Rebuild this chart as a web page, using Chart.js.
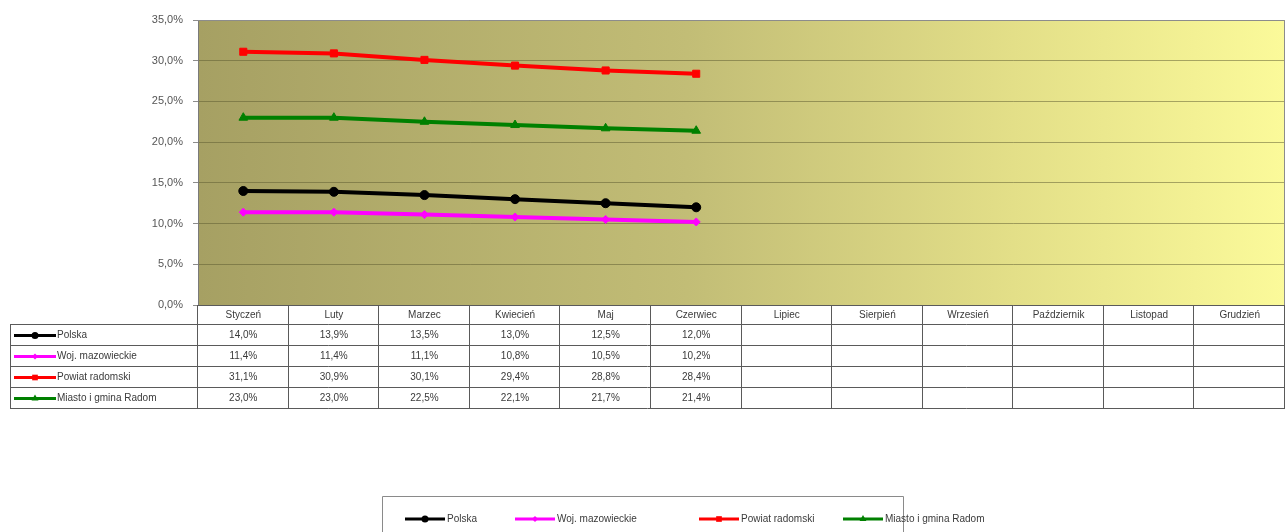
<!DOCTYPE html>
<html>
<head>
<meta charset="utf-8">
<script src="https://cdn.jsdelivr.net/npm/chart.js@4/dist/chart.umd.min.js"></script>
<style>
  html, body { margin: 0; padding: 0; background: #fff; }
  #wrap { width: 1287px; height: 532px; }
</style>
</head>
<body>
<div id="wrap"><canvas id="c" width="1287" height="532"></canvas></div>
<script>
// ── Data ─────────────────────────────────────────────────────────────────────
const MONTHS = ['Styczeń', 'Luty', 'Marzec', 'Kwiecień', 'Maj', 'Czerwiec',
  'Lipiec', 'Sierpień', 'Wrzesień', 'Październik', 'Listopad', 'Grudzień'];

const POLSKA     = [14.0, 13.9, 13.5, 13.0, 12.5, 12.0];
const WOJ_MAZ    = [11.4, 11.4, 11.1, 10.8, 10.5, 10.2];
const POWIAT_RAD = [31.1, 30.9, 30.1, 29.4, 28.8, 28.4];
const MIASTO_RAD = [23.0, 23.0, 22.5, 22.1, 21.7, 21.4];

const SERIES_NAMES = ['Polska', 'Woj. mazowieckie', 'Powiat radomski', 'Miasto i gmina Radom'];
const Y_TICKS = [0, 5, 10, 15, 20, 25, 30, 35];

const FONT = 'Arial, "Liberation Sans", sans-serif';
const TEXT = '#3a3a3a';

const fmtPct = (v) => v.toFixed(1).replace('.', ',') + '%';

// ── Plugins ──────────────────────────────────────────────────────────────────
const plotBg = {
  id: 'plotBg',
  beforeDraw(chart) {
    const { ctx, chartArea: a } = chart;
    const g = ctx.createLinearGradient(a.left, 0, a.right, 0);
    g.addColorStop(0,    '#a6a063');
    g.addColorStop(0.45, '#c2bd76');
    g.addColorStop(0.75, '#e3df88');
    g.addColorStop(1,    '#fbfa9a');
    ctx.save();
    ctx.fillStyle = g;
    ctx.fillRect(a.left, a.top, a.right - a.left, a.bottom - a.top);
    ctx.restore();
  },
  afterDatasetsDraw(chart) {
    // grey frame on top and right of the plot area
    const { ctx, chartArea: a } = chart;
    ctx.save();
    ctx.strokeStyle = '#8c8c8c';
    ctx.lineWidth = 1;
    ctx.beginPath();
    ctx.moveTo(a.left, a.top + 0.5);
    ctx.lineTo(a.right - 0.5, a.top + 0.5);
    ctx.lineTo(a.right - 0.5, a.bottom);
    ctx.stroke();
    ctx.restore();
  }
};

function drawSample(ctx, ds, x0, x1, y) {
  ctx.save();
  ctx.strokeStyle = ds.borderColor;
  ctx.lineWidth = 3;
  ctx.beginPath();
  ctx.moveTo(x0, y);
  ctx.lineTo(x1, y);
  ctx.stroke();
  const cx = (x0 + x1) / 2;
  ctx.fillStyle = ds.pointBackgroundColor;
  Chart.helpers.drawPoint(ctx, {
    pointStyle: ds.pointStyle, radius: ds.pointRadius - 1, rotation: 0, borderWidth: 0
  }, cx, y);
  ctx.restore();
}

const dataTable = {
  id: 'dataTable',
  afterDraw(chart) {
    const { ctx } = chart;
    const xs = chart.scales.x;
    const n = chart.data.labels.length;
    const colW = (xs.right - xs.left) / n;
    const top = chart.chartArea.bottom;
    const headH = 19, rowH = 21;
    const tableLeft = 10;
    const rows = chart.data.datasets.length;
    const bottom = top + headH + rows * rowH;

    ctx.save();
    ctx.strokeStyle = '#5a5a5a';
    ctx.lineWidth = 1;
    ctx.beginPath();
    // horizontal lines
    ctx.moveTo(xs.left, top + 0.5); ctx.lineTo(xs.right, top + 0.5);
    for (let r = 0; r <= rows; r++) {
      const y = Math.round(top + headH + r * rowH) + 0.5;
      ctx.moveTo(tableLeft, y); ctx.lineTo(xs.right, y);
    }
    // vertical lines
    ctx.moveTo(tableLeft + 0.5, top + headH); ctx.lineTo(tableLeft + 0.5, bottom + 0.5);
    for (let i = 0; i <= n; i++) {
      const x = Math.round(xs.left + i * colW) - 0.5;
      ctx.moveTo(x, top); ctx.lineTo(x, bottom + 0.5);
    }
    ctx.stroke();

    ctx.font = '10px ' + FONT;
    ctx.fillStyle = TEXT;
    ctx.textBaseline = 'middle';
    ctx.textAlign = 'center';
    chart.data.labels.forEach((lab, i) => {
      ctx.fillText(lab, xs.left + (i + 0.5) * colW, top + headH / 2 + 1);
    });

    chart.data.datasets.forEach((ds, r) => {
      const yc = top + headH + r * rowH + rowH / 2 + 1;
      drawSample(ctx, ds, tableLeft + 4, tableLeft + 46, yc);
      ctx.fillStyle = TEXT;
      ctx.textAlign = 'left';
      ctx.fillText(ds.label, tableLeft + 47, yc);
      ctx.textAlign = 'center';
      ds.data.forEach((v, i) => {
        if (v == null) return;
        ctx.fillText(fmtPct(v), xs.left + (i + 0.5) * colW, yc);
      });
    });
    ctx.restore();
  }
};

const boxLegend = {
  id: 'boxLegend',
  afterDraw(chart) {
    const { ctx } = chart;
    const boxL = 382, boxT = 496, boxR = 903;
    const y = 519;
    const starts = [405, 515, 699, 843];
    ctx.save();
    ctx.strokeStyle = '#8a8a8a';
    ctx.lineWidth = 1;
    ctx.beginPath();
    ctx.moveTo(boxL + 0.5, 540);
    ctx.lineTo(boxL + 0.5, boxT + 0.5);
    ctx.lineTo(boxR + 0.5, boxT + 0.5);
    ctx.lineTo(boxR + 0.5, 540);
    ctx.stroke();
    ctx.font = '10px ' + FONT;
    ctx.textBaseline = 'middle';
    ctx.textAlign = 'left';
    chart.data.datasets.forEach((ds, i) => {
      const x0 = starts[i];
      drawSample(ctx, ds, x0, x0 + 40, y);
      ctx.fillStyle = TEXT;
      ctx.fillText(ds.label, x0 + 42, y);
    });
    ctx.restore();
  }
};

// ── Chart ────────────────────────────────────────────────────────────────────
const COLORS = ['#000000', '#ff00ff', '#ff0000', '#008000'];
const STYLES = ['circle', 'rectRot', 'rect', 'triangle'];
const RADII  = [4.5, 4, 5, 5];
const VALUES = [POLSKA, WOJ_MAZ, POWIAT_RAD, MIASTO_RAD];

new Chart(document.getElementById('c'), {
  type: 'line',
  data: {
    labels: MONTHS,
    datasets: SERIES_NAMES.map((name, i) => ({
      label: name,
      data: VALUES[i],
      borderColor: COLORS[i],
      backgroundColor: COLORS[i],
      pointBackgroundColor: COLORS[i],
      pointBorderColor: COLORS[i],
      pointBorderWidth: 1,
      pointStyle: STYLES[i],
      pointRadius: RADII[i],
      borderWidth: 4,
      tension: 0,
      fill: false
    }))
  },
  options: {
    responsive: false,
    animation: false,
    layout: { autoPadding: false, padding: { top: 20, right: 2, bottom: 0, left: 0 } },
    plugins: {
      legend: { display: false },
      tooltip: { enabled: false }
    },
    scales: {
      x: {
        offset: true,
        ticks: { display: false },
        grid: { display: false },
        border: { display: false },
        afterFit: (s) => { s.height = 227; s.paddingLeft = 0; s.paddingRight = 0; }
      },
      y: {
        min: 0,
        max: 35,
        afterBuildTicks: (s) => { s.ticks = Y_TICKS.map(v => ({ value: v })); },
        afterFit: (s) => { s.width = 198; },
        ticks: {
          padding: 10,
          color: '#555555',
          font: { family: FONT, size: 11 },
          callback: (v) => fmtPct(v)
        },
        grid: {
          color: 'rgba(90, 88, 45, 0.5)',
          tickColor: '#8c8c8c',
          tickLength: 5
        },
        border: { color: '#7a7a7a' }
      }
    }
  },
  plugins: [plotBg, dataTable, boxLegend]
});
</script>
</body>
</html>
